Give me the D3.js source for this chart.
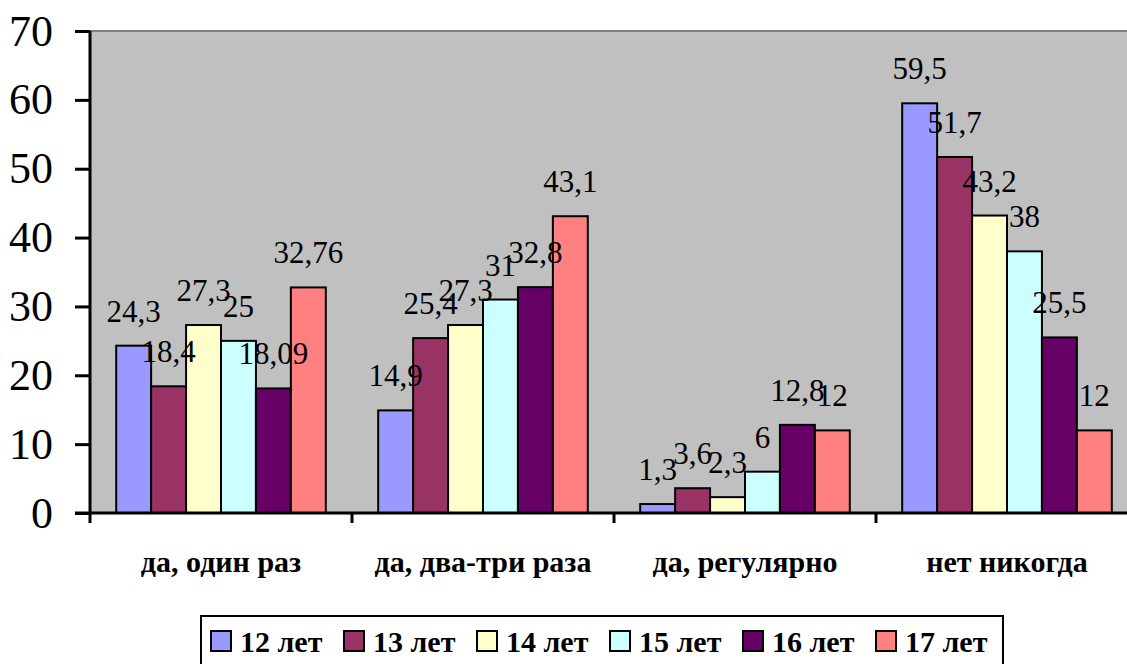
<!DOCTYPE html>
<html><head><meta charset="utf-8">
<script src="https://cdn.jsdelivr.net/npm/d3@7"></script>
<style>
html,body{margin:0;padding:0;background:#fff;overflow:hidden}
#c text{font-family:"Liberation Serif" !important;}
</style>
</head><body>
<svg id="c" width="1127" height="664" font-family="Liberation Serif"></svg>
<script>
const categories = ["да, один раз", "да, два-три раза", "да, регулярно", "нет никогда"];
const seriesNames = ["12 лет", "13 лет", "14 лет", "15 лет", "16 лет", "17 лет"];
const s12 = [24.3, 14.9, 1.3, 59.5];
const s13 = [18.4, 25.4, 3.6, 51.7];
const s14 = [27.3, 27.3, 2.3, 43.2];
const s15 = [25, 31, 6, 38];
const s16 = [18.09, 32.8, 12.8, 25.5];
const s17 = [32.76, 43.1, 12, 12];
const seriesValues = [s12, s13, s14, s15, s16, s17];
const colors = ["#9999FF", "#993366", "#FFFFCC", "#CCFFFF", "#660066", "#FF8080"];
const yTicks = [0, 10, 20, 30, 40, 50, 60, 70];

const svg = d3.select("#c");
const pL = 90, pR = 1138, pT = 31, pB = 513;

const x0 = d3.scaleBand().domain(categories).range([pL, pR]).paddingInner(0).paddingOuter(0);
const x1 = d3.scaleBand().domain(seriesNames).range([0, x0.bandwidth()]).paddingInner(0).paddingOuter(0.75);
const y = d3.scaleLinear().domain([0, 70]).range([pB, pT]);

// plot area
svg.append("rect").attr("x", pL).attr("y", pT).attr("width", pR - pL).attr("height", pB - pT)
  .attr("fill", "#C0C0C0");
svg.append("line").attr("x1", pL).attr("x2", pR).attr("y1", pT).attr("y2", pT)
  .attr("stroke", "#808080").attr("stroke-width", 2);

// bars
seriesNames.forEach((s, si) => {
  const g = svg.append("g");
  categories.forEach((c, ci) => {
    const v = seriesValues[si][ci];
    g.append("rect")
      .attr("x", x0(c) + x1(s))
      .attr("y", y(v))
      .attr("width", x1.bandwidth())
      .attr("height", y(0) - y(v))
      .attr("fill", colors[si])
      .attr("stroke", "#000").attr("stroke-width", 2);
  });
});

// y axis
const yAxis = d3.axisLeft(y).tickValues(yTicks).tickSize(15).tickPadding(22).tickFormat(d3.format("d"));
const ya = svg.append("g").attr("transform", `translate(${pL},0)`).call(yAxis);
ya.attr("font-family", "Liberation Serif").attr("font-size", 44);
ya.select(".domain").attr("stroke", "#000").attr("stroke-width", 3).attr("d", `M0,${pT}V${pB}`);
ya.selectAll(".tick line").attr("stroke", "#000").attr("stroke-width", 3);
ya.selectAll(".tick text").attr("fill", "#000");

// x axis
svg.append("line").attr("x1", pL - 15).attr("x2", pR).attr("y1", pB).attr("y2", pB)
  .attr("stroke", "#000").attr("stroke-width", 3);
const bounds = categories.map(c => x0(c)).concat([x0(categories[categories.length - 1]) + x0.bandwidth()]);
svg.selectAll(".xt").data(bounds).enter().append("line")
  .attr("x1", d => d).attr("x2", d => d).attr("y1", pB).attr("y2", pB + 10)
  .attr("stroke", "#000").attr("stroke-width", 3);
svg.selectAll(".xl").data(categories).enter().append("text")
  .attr("x", d => x0(d) + x0.bandwidth() / 2).attr("y", 572)
  .attr("text-anchor", "middle").attr("font-weight", "bold")
  .attr("font-size", 30).attr("fill", "#000").text(d => d);

// value labels
seriesNames.forEach((s, si) => {
  categories.forEach((c, ci) => {
    const v = seriesValues[si][ci];
    svg.append("text")
      .attr("x", x0(c) + x1(s) + x1.bandwidth() / 2)
      .attr("y", y(v) - 24)
      .attr("text-anchor", "middle").attr("font-size", 31).attr("fill", "#000")
      .text(String(v).replace(".", ","));
  });
});

// legend
const lg = svg.append("g");
lg.append("rect").attr("x", 201).attr("y", 616).attr("width", 802).attr("height", 70)
  .attr("fill", "#fff").attr("stroke", "#000").attr("stroke-width", 2);
seriesNames.forEach((s, i) => {
  const gx = 211 + i * 133;
  lg.append("rect").attr("x", gx).attr("y", 631).attr("width", 20).attr("height", 20)
    .attr("fill", colors[i]).attr("stroke", "#000").attr("stroke-width", 2);
  lg.append("text").attr("x", gx + 29).attr("y", 652).attr("font-weight", "bold")
    .attr("font-size", 30).attr("fill", "#000").text(s);
});
</script>
</body></html>
